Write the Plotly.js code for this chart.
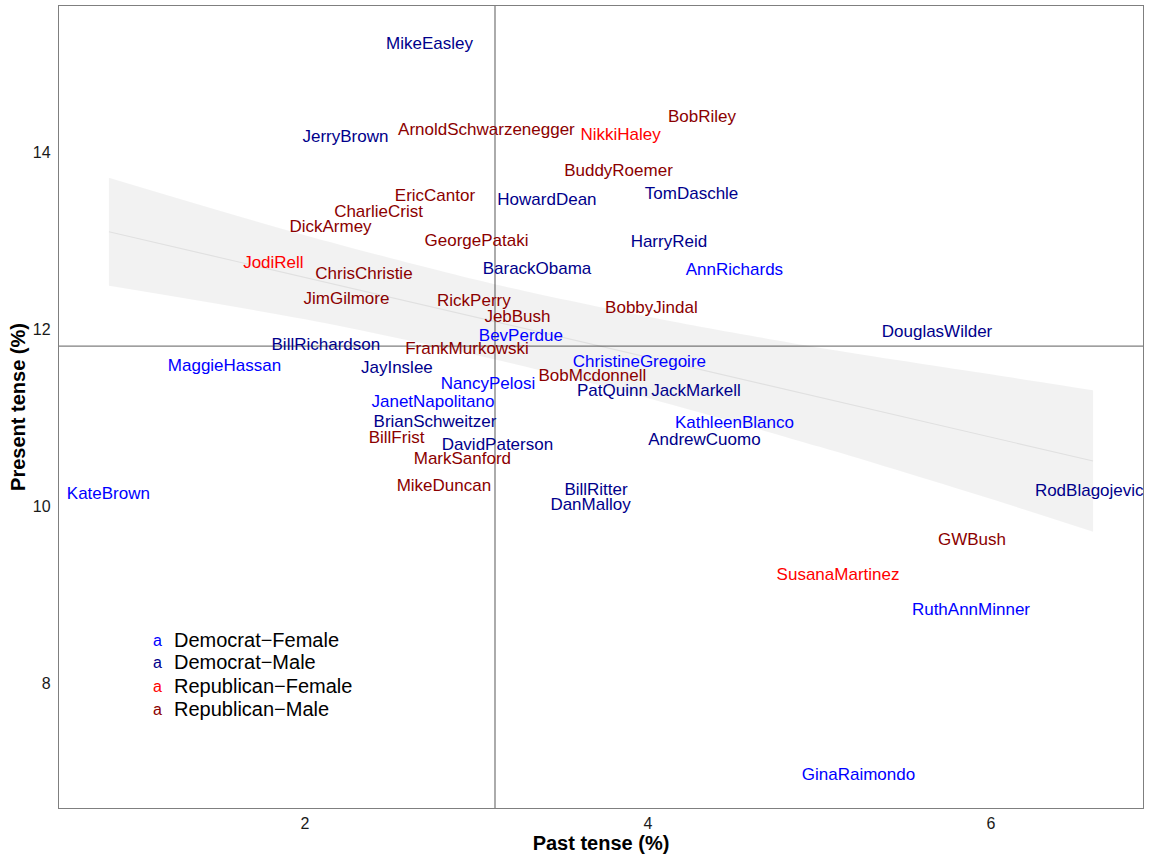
<!DOCTYPE html>
<html>
<head>
<meta charset="utf-8">
<script src="https://cdn.plot.ly/plotly-3.0.1.min.js"></script>
<style>html,body{margin:0;padding:0;background:#fff;}#chart{width:1151px;height:861px;}</style>
</head>
<body>
<div id="chart"></div>
<script>
// ---- data ----
const names = ["MikeEasley","JerryBrown","ArnoldSchwarzenegger","NikkiHaley","BobRiley","BuddyRoemer",
  "EricCantor","HowardDean","TomDaschle","CharlieCrist","DickArmey","GeorgePataki","HarryReid",
  "JodiRell","ChrisChristie","BarackObama","AnnRichards","JimGilmore","RickPerry","BobbyJindal",
  "JebBush","BevPerdue","DouglasWilder","BillRichardson","FrankMurkowski","MaggieHassan","JayInslee",
  "ChristineGregoire","BobMcdonnell","NancyPelosi","PatQuinn","JackMarkell","JanetNapolitano",
  "BrianSchweitzer","KathleenBlanco","BillFrist","AndrewCuomo","DavidPaterson","MarkSanford",
  "MikeDuncan","KateBrown","BillRitter","DanMalloy","RodBlagojevich","GWBush","SusanaMartinez",
  "RuthAnnMinner","GinaRaimondo"];
const pastTense = [2.726,2.236,3.058,3.840,4.315,3.828,
  2.758,3.411,4.254,2.429,2.149,3.000,4.122,
  1.816,2.344,3.353,4.504,2.242,2.985,4.020,
  3.239,3.259,5.685,2.122,2.945,1.531,2.536,
  3.950,3.676,3.067,3.793,4.280,2.746,
  2.758,4.504,2.534,4.329,3.122,2.918,
  2.810,0.854,3.697,3.665,6.600,5.889,5.108,
  5.883,5.227];
const presentTense = [15.21,14.16,14.24,14.18,14.39,13.78,
  13.49,13.45,13.52,13.31,13.14,12.99,12.97,
  12.74,12.61,12.67,12.66,12.33,12.31,12.23,
  12.13,11.91,11.96,11.81,11.77,11.57,11.55,
  11.62,11.46,11.37,11.29,11.29,11.17,
  10.94,10.93,10.76,10.74,10.68,10.52,
  10.22,10.13,10.17,10.00,10.16,9.61,9.21,
  8.82,6.96];
const groups = ["DM","DM","RM","RF","RM","RM",
  "RM","DM","DM","RM","RM","RM","DM",
  "RF","RM","DM","DF","RM","RM","RM",
  "RM","DF","DM","DM","RM","DF","DM",
  "DF","RM","DF","DM","DM","DF",
  "DM","DF","RM","DM","DM","RM",
  "RM","DF","DM","DM","DM","RM","RF",
  "DF","DF"];
const groupKeys = ["DF","DM","RF","RM"];
const groupLabels = ["Democrat\u2212Female","Democrat\u2212Male","Republican\u2212Female","Republican\u2212Male"];
const groupColors = ["#0000FF","#00008B","#FF0000","#8B0000"];
const meanPast = 3.108;     // vertical reference line
const meanPresent = 11.808; // horizontal reference line

// linear smooth and its confidence band
const smoothX     = [0.857, 2.0,   3.1,   4.0,   5.0,   6.0,   6.595];
const smoothFit   = [13.10, 12.585, 12.088, 11.683, 11.232, 10.781, 10.51];
const smoothUpper = [13.71, 13.06, 12.51, 12.14, 11.79, 11.49, 11.31];
const smoothLower = [12.49, 12.11, 11.66, 11.22, 10.67, 10.08, 9.71];

const traces = [];
traces.push({x: smoothX, y: smoothLower, type:'scatter', mode:'lines',
  line:{width:0, color:'rgba(0,0,0,0)', shape:'spline', smoothing:0.8}, hoverinfo:'skip', showlegend:false});
traces.push({x: smoothX, y: smoothUpper, type:'scatter', mode:'lines', fill:'tonexty', fillcolor:'rgba(0,0,0,0.05)',
  line:{width:0, color:'rgba(0,0,0,0)', shape:'spline', smoothing:0.8}, hoverinfo:'skip', showlegend:false});
traces.push({x: smoothX, y: smoothFit, type:'scatter', mode:'lines',
  line:{color:'rgba(0,0,0,0.07)', width:1.2}, hoverinfo:'skip', showlegend:false});

const n = names.length;
groupKeys.forEach((g,gi)=>{
  const xs=[], ys=[], ts=[];
  for (let i=0;i<n;i++) if (groups[i]===g){ xs.push(pastTense[i]); ys.push(presentTense[i]); ts.push(names[i]); }
  traces.push({x:xs, y:ys, text:ts, type:'scatter', mode:'text', textposition:'middle center',
    textfont:{family:'Liberation Sans, Arial, sans-serif', size:17, color:groupColors[gi]},
    cliponaxis:true, showlegend:false, name:groupLabels[gi]});
});

// legend as annotations
const annotations = [];
const legY = [8.486, 8.237, 7.966, 7.706];
groupKeys.forEach((g,gi)=>{
  annotations.push({x:1.143, y:legY[gi], xref:'x', yref:'y', text:'a', showarrow:false,
    xanchor:'center', yanchor:'middle', font:{family:'Liberation Sans, Arial, sans-serif', size:16, color:groupColors[gi]}});
  annotations.push({x:1.225, y:legY[gi], xref:'x', yref:'y', text:groupLabels[gi], showarrow:false,
    xanchor:'left', yanchor:'middle', font:{family:'Liberation Sans, Arial, sans-serif', size:20, color:'#000'}});
});

const axFont = {family:'Liberation Sans, Arial, sans-serif', size:16, color:'#1a1a1a'};
const layout = {
  width:1151, height:861,
  margin:{l:59, r:8, t:6, b:53, pad:0},
  paper_bgcolor:'#fff', plot_bgcolor:'#fff',
  showlegend:false,
  xaxis:{range:[0.566,6.886], tickvals:[2,4,6], ticks:'', showgrid:false, zeroline:false,
    showline:true, mirror:true, linecolor:'#7f7f7f', linewidth:1.2, tickfont:axFont, ticklabelstandoff:1,
    title:{text:'<b>Past tense (%)</b>', font:{family:'Liberation Sans, Arial, sans-serif', size:20, color:'#000'}, standoff:4}},
  yaxis:{range:[6.59,15.65], tickvals:[8,10,12,14], ticks:'', showgrid:false, zeroline:false,
    showline:true, mirror:true, linecolor:'#7f7f7f', linewidth:1.2, tickfont:axFont, ticklabelstandoff:4,
    title:{text:'<b>Present tense (%)</b>', font:{family:'Liberation Sans, Arial, sans-serif', size:20, color:'#000'}, standoff:1}},
  shapes:[
    {type:'line', xref:'x', yref:'paper', x0:meanPast, x1:meanPast, y0:0, y1:1, line:{color:'#7f7f7f', width:1.3}, layer:'below'},
    {type:'line', xref:'paper', yref:'y', x0:0, x1:1, y0:meanPresent, y1:meanPresent, line:{color:'#7f7f7f', width:1.3}, layer:'below'}
  ],
  annotations: annotations
};
Plotly.newPlot('chart', traces, layout, {displayModeBar:false, staticPlot:true});
</script>
</body>
</html>
